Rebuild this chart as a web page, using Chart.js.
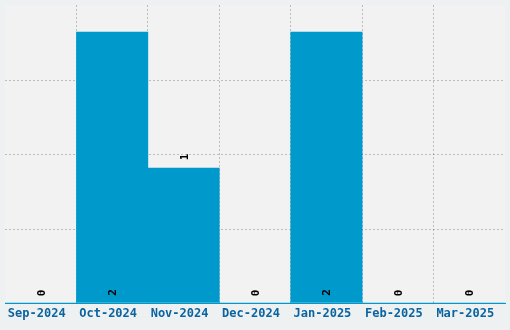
<!DOCTYPE html>
<html>
<head>
<meta charset="utf-8">
<script src="https://cdn.jsdelivr.net/npm/chart.js@4"></script>
<style>
  html, body { margin: 0; padding: 0; background: #eef1f2; }
  #wrap { width: 510px; height: 330px; }
</style>
</head>
<body>
<div id="wrap"><canvas id="chart"></canvas></div>
<script>
const categories = ['Sep-2024', 'Oct-2024', 'Nov-2024', 'Dec-2024', 'Jan-2025', 'Feb-2025', 'Mar-2025'];
const counts = [0, 2, 1, 0, 2, 0, 0];
const yTicks = [0, 0.55, 1.1, 1.65, 2.2];

// plot area background
const plotBg = {
  id: 'plotBg',
  beforeDraw(chart) {
    const { ctx, chartArea: a } = chart;
    ctx.save();
    ctx.fillStyle = '#f2f2f2';
    ctx.fillRect(a.left, a.top, a.right - a.left, a.bottom - a.top);
    ctx.restore();
  }
};

// rotated value labels
const valueLabels = {
  id: 'valueLabels',
  afterDraw(chart) {
    const { ctx } = chart;
    const meta = chart.getDatasetMeta(0);
    const max = Math.max(...counts);
    ctx.save();
    ctx.font = 'bold 11px "DejaVu Sans Mono", monospace';
    ctx.fillStyle = '#000000';
    ctx.textAlign = 'center';
    ctx.textBaseline = 'middle';
    meta.data.forEach((bar, i) => {
      const v = counts[i];
      let y;
      if (v === 0 || v === max) y = bar.base - 10;
      else y = bar.y - 11;
      ctx.save();
      ctx.translate(Math.round(bar.x) + 1, y);
      ctx.rotate(-Math.PI / 2);
      ctx.fillText(String(v), 0, 0);
      ctx.restore();
    });
    ctx.restore();
  }
};

const gridColor = 'rgba(0,0,0,0.22)';

new Chart(document.getElementById('chart'), {
  type: 'bar',
  data: {
    labels: categories,
    datasets: [{
      data: counts,
      backgroundColor: '#0099cc',
      borderWidth: 0,
      barPercentage: 1,
      categoryPercentage: 1
    }]
  },
  options: {
    responsive: true,
    maintainAspectRatio: false,
    animation: false,
    layout: { padding: { left: 5, right: 5, top: 5, bottom: 5 } },
    plugins: {
      legend: { display: false },
      tooltip: { enabled: false }
    },
    scales: {
      x: {
        z: 1,
        grid: {
          offset: true,
          drawTicks: false,
          color: (c) => (c.type !== 'tick' || c.index === 0) ? 'rgba(0,0,0,0)' : gridColor,
          lineWidth: 1
        },
        border: { display: true, color: '#0099cc', width: 1, dash: [2, 2] },
        ticks: {
          color: '#0b64a0',
          padding: 4,
          labelOffset: -4,
          maxRotation: 0,
          font: { family: '"DejaVu Sans Mono", monospace', weight: 'bold', size: 12 }
        },
        afterFit(scale) { scale.height = 22; }
      },
      y: {
        display: true,
        z: 1,
        alignToPixels: true,
        min: 0,
        max: 2.2,
        afterBuildTicks(scale) { scale.ticks = yTicks.map(v => ({ value: v })); },
        grid: {
          drawTicks: false,
          color: (c) => (c.type !== 'tick' || c.index === 0 || c.index === yTicks.length - 1) ? 'rgba(0,0,0,0)' : gridColor,
          lineWidth: 1
        },
        border: { display: false, dash: [2, 2] },
        ticks: { display: false },
        afterFit(scale) { scale.width = 0; }
      }
    }
  },
  plugins: [plotBg, valueLabels]
});
</script>
</body>
</html>
